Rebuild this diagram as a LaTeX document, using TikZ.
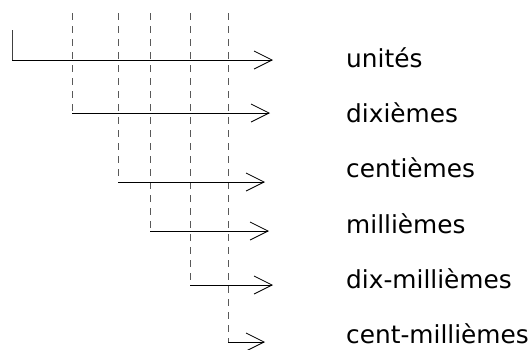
\documentclass[tikz,border=0pt]{standalone}
\usepackage{fontspec}
\setmainfont{DejaVu Sans}
\usetikzlibrary{arrows.meta}

\tikzset{
  rang/.style={anchor=base west, inner sep=0pt, font=\fontsize{24.8}{28}\selectfont},
  fleche/.style={-{Straight Barb[length=18pt,width=18pt]}, line width=0.8pt},
  guide/.style={dashed, dash pattern=on 7pt off 6pt, line width=0.8pt, black!65}
}

\begin{document}
\begin{tikzpicture}[x=1pt,y=-1pt]
\useasboundingbox (0,0) rectangle (531,349);

% labels
\node[rang] (u0) at (346,67)  {unités};
\node[rang] (u1) at (346,122) {dixièmes};
\node[rang] (u2) at (346,177) {centièmes};
\node[rang] (u3) at (346,233) {millièmes};
\node[rang] (u4) at (346,288) {dix-millièmes};
\node[rang] (u5) at (346,343) {cent-millièmes};

% starts and ends of the arrows
\coordinate (c0) at (12,60);  \coordinate (e0) at (273,60);
\coordinate (c1) at (72,113); \coordinate (e1) at (270,113);
\coordinate (c2) at (118,182);\coordinate (e2) at (265,182);
\coordinate (c3) at (150,231);\coordinate (e3) at (269,231);
\coordinate (c4) at (190,285);\coordinate (e4) at (273,285);
\coordinate (c5) at (228,342);\coordinate (e5) at (265,342);
\coordinate (top) at (12,30);

% dashed guides
\foreach \i in {1,...,5}
  \draw[guide] (c\i |- 0,13) -- (c\i);

\draw[line width=0.8pt, black!75] (top) -- (c0);
\foreach \i in {0,...,5}
  \draw[fleche] (c\i) -- (e\i);
\end{tikzpicture}
\end{document}
